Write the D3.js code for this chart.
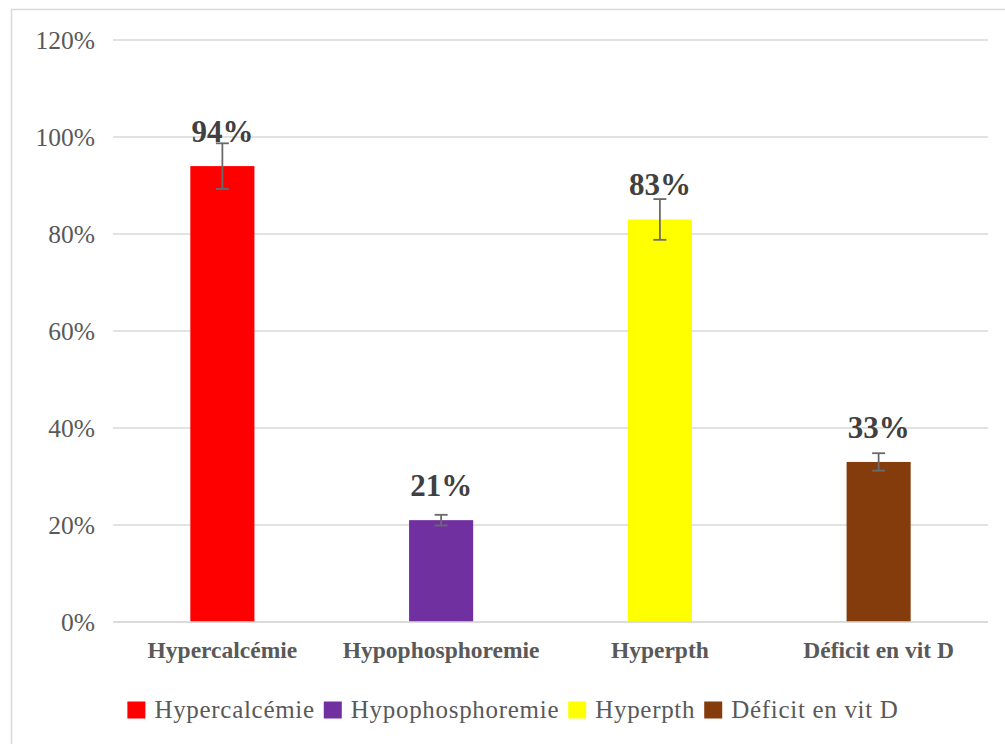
<!DOCTYPE html>
<html>
<head>
<meta charset="utf-8">
<script src="https://cdn.jsdelivr.net/npm/d3@7"></script>
<style>
  body { margin: 0; background: #fff; }
  svg { display: block; }
</style>
</head>
<body>
<div id="chart"></div>
<script>
// data
var categories = ["Hypercalcémie", "Hypophosphoremie", "Hyperpth", "Déficit en vit D"];
var values = [94, 21, 83, 33];
var errors = [4.7, 1.1, 4.2, 1.8];
var colors = ["#FF0000", "#7030A0", "#FFFF00", "#843C0C"];
var yTicks = [0, 20, 40, 60, 80, 100, 120];

var W = 1005, H = 744;
var margin = {top: 40, right: 17, bottom: 122, left: 113},
    width = W - margin.left - margin.right,
    height = H - margin.top - margin.bottom;

var svg = d3.select("#chart")
  .append("svg")
    .attr("width", W)
    .attr("height", H);

// outer frame
svg.append("rect")
  .attr("x", 11.5).attr("y", 9.5)
  .attr("width", 1010).attr("height", 760)
  .attr("fill", "none")
  .attr("stroke", "#D9D9D9")
  .attr("stroke-width", 1.5);

var g = svg.append("g")
  .attr("transform", "translate(" + margin.left + "," + margin.top + ")");

var x = d3.scaleBand()
  .domain(categories)
  .range([0, width])
  .padding(0);

var y = d3.scaleLinear()
  .domain([0, 120])
  .range([height, 0]);

var barW = x.bandwidth() * 0.293;

// gridlines
g.append("g")
  .selectAll("line")
  .data(yTicks)
  .enter()
  .append("line")
    .attr("x1", 0).attr("x2", width)
    .attr("y1", d => y(d)).attr("y2", d => y(d))
    .attr("stroke", "#D9D9D9")
    .attr("stroke-width", 1.3);

// y axis labels
var yAxis = g.append("g")
  .call(d3.axisLeft(y).tickValues(yTicks).tickFormat(d => d + "%").tickSize(0).tickPadding(18));
yAxis.select(".domain").remove();
yAxis.selectAll("text")
  .attr("font-family", "'Liberation Serif', 'Times New Roman', serif")
  .attr("font-size", "25.5px")
  .attr("fill", "#595959")
  .attr("dy", "0.32em");

// bars
g.append("g")
  .selectAll("rect")
  .data(values)
  .enter()
  .append("rect")
    .attr("x", (d, i) => x(categories[i]) + x.bandwidth() / 2 - barW / 2)
    .attr("y", d => y(d))
    .attr("width", barW)
    .attr("height", d => height - y(d))
    .attr("fill", (d, i) => colors[i]);

// error bars
var eb = g.append("g")
  .selectAll("g")
  .data(values)
  .enter()
  .append("g")
    .attr("stroke", "#6A6A6A")
    .attr("stroke-width", 1.8);
eb.append("line")
  .attr("x1", (d, i) => x(categories[i]) + x.bandwidth() / 2)
  .attr("x2", (d, i) => x(categories[i]) + x.bandwidth() / 2)
  .attr("y1", (d, i) => y(d + errors[i]))
  .attr("y2", (d, i) => y(d - errors[i]));
[1, -1].forEach(function(s) {
  eb.append("line")
    .attr("x1", (d, i) => x(categories[i]) + x.bandwidth() / 2 - 6.5)
    .attr("x2", (d, i) => x(categories[i]) + x.bandwidth() / 2 + 6.5)
    .attr("y1", (d, i) => y(d + s * errors[i]))
    .attr("y2", (d, i) => y(d + s * errors[i]));
});

// value labels
g.append("g")
  .selectAll("text")
  .data(values)
  .enter()
  .append("text")
    .attr("x", (d, i) => x(categories[i]) + x.bandwidth() / 2)
    .attr("y", d => y(d) - 24)
    .attr("text-anchor", "middle")
    .attr("font-family", "'Liberation Serif', 'Times New Roman', serif")
    .attr("font-weight", "bold")
    .attr("font-size", "31px")
    .attr("fill", "#404040")
    .text(d => d + "%");

// x axis line
g.append("line")
  .attr("x1", 0).attr("x2", width)
  .attr("y1", height).attr("y2", height)
  .attr("stroke", "#D9D9D9")
  .attr("stroke-width", 1.5);

// category labels
g.append("g")
  .selectAll("text")
  .data(categories)
  .enter()
  .append("text")
    .attr("x", d => x(d) + x.bandwidth() / 2)
    .attr("y", height + 36)
    .attr("text-anchor", "middle")
    .attr("font-family", "'Liberation Serif', 'Times New Roman', serif")
    .attr("font-weight", "bold")
    .attr("font-size", "23.5px")
    .attr("fill", "#595959")
    .text(d => d);

// legend
var legend = svg.append("g");
var items = legend.selectAll("g")
  .data(categories)
  .enter()
  .append("g");
items.append("rect")
  .attr("width", 18).attr("height", 17)
  .attr("y", -8.5)
  .attr("fill", (d, i) => colors[i]);
items.append("text")
  .attr("x", 27)
  .attr("y", 8)
  .attr("font-family", "'Liberation Serif', 'Times New Roman', serif")
  .attr("font-size", "25px")
  .attr("letter-spacing", "0.7px")
  .attr("fill", "#595959")
  .text(d => d);

var offset = 0;
items.each(function() {
  var t = d3.select(this).select("text").node().getComputedTextLength();
  d3.select(this).attr("transform", "translate(" + offset + ",0)");
  offset += 27 + t + 9;
});
var total = offset - 9;
legend.attr("transform", "translate(" + (513 - total / 2) + ",710)");
</script>
</body>
</html>
